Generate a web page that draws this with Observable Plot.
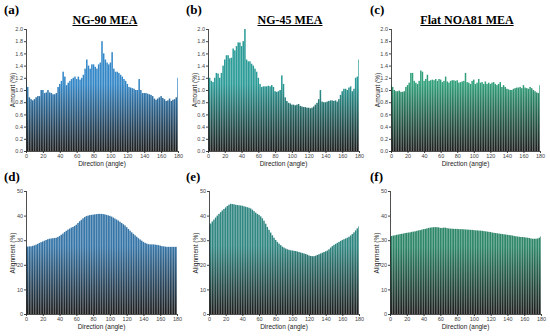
<!DOCTYPE html>
<html>
<head>
<meta charset="utf-8">
<script src="https://cdn.jsdelivr.net/npm/d3@7"></script>
<script src="https://cdn.jsdelivr.net/npm/@observablehq/plot@0.6"></script>
<style>
  html, body { margin: 0; padding: 0; background: #fff; }
  #root { position: relative; width: 550px; height: 336px; overflow: hidden; font-family: "Liberation Sans", Arial, sans-serif; }
  .abs { position: absolute; }
  .plabel { font-family: "Liberation Serif", "Times New Roman", serif; font-weight: bold; font-size: 13px; color: #000; }
  .title { font-family: "Liberation Serif", "Times New Roman", serif; font-weight: bold; font-size: 12px; text-decoration: underline; color: #000; transform: translateX(-50%); white-space: nowrap; }
  .xlab { font-size: 6.5px; color: #222; transform: translateX(-50%); white-space: nowrap; }
  .ylab { font-size: 6.5px; color: #222; white-space: nowrap; transform: translate(-50%, -50%) rotate(-90deg); }
</style>
</head>
<body>
<div id="root"></div>
<script>
const angles = d3.range(0, 181, 2);

const amountNG90 = [1.2, 1.05, 0.88, 0.85, 0.83, 0.85, 0.88, 0.9, 0.9, 1.0, 1.0, 0.95, 0.96, 1.0, 0.96, 0.95,
  0.93, 0.93, 0.95, 1.05, 1.1, 1.15, 1.3, 1.22, 1.08, 1.12, 1.15, 1.18, 1.2, 1.22, 1.18, 1.22, 1.17, 1.2,
  1.25, 1.35, 1.5, 1.4, 1.35, 1.42, 1.42, 1.38, 1.35, 1.42, 1.45, 1.8, 1.6, 1.5, 1.45, 1.42, 1.45, 1.62,
  1.35, 1.3, 1.3, 1.28, 1.25, 1.22, 1.18, 1.15, 1.1, 1.05, 1.04, 1.03, 1.02, 1.0, 1.0, 1.18, 1.0, 0.95,
  0.95, 0.95, 0.94, 0.93, 0.92, 0.9, 0.86, 0.84, 0.86, 0.88, 0.9, 0.87, 0.85, 0.82, 0.83, 0.86, 0.82,
  0.84, 0.85, 0.88, 1.2];

const amountNG45 = [1.5, 1.2, 1.15, 1.13, 1.2, 1.28, 1.27, 1.2, 1.28, 1.4, 1.5, 1.57, 1.57, 1.52, 1.53,
  1.68, 1.65, 1.72, 1.78, 1.78, 1.72, 1.8, 2.0, 1.5, 1.47, 1.47, 1.43, 1.4, 1.35, 1.3, 1.2, 1.1, 1.05,
  1.06, 1.06, 1.06, 1.07, 1.06, 1.08, 1.05, 0.98, 0.97, 0.98, 1.0, 1.24, 1.1, 0.88, 0.82, 0.79, 0.78,
  0.76, 0.76, 0.75, 0.76, 0.77, 0.74, 0.73, 0.72, 0.72, 0.71, 0.71, 0.7, 0.71, 0.73, 0.76, 0.79, 0.85,
  1.0, 0.81, 0.8, 0.8, 0.81, 0.82, 0.83, 0.83, 0.82, 0.83, 0.81, 0.85, 0.92, 0.98, 1.02, 1.02, 1.0,
  1.04, 1.06, 0.98, 1.02, 1.2, 1.22, 1.5];

const amountFlat = [1.08, 1.05, 1.0, 0.98, 0.98, 0.99, 0.97, 0.97, 0.98, 1.05, 1.08, 1.12, 1.28, 1.28,
  1.15, 1.12, 1.1, 1.15, 1.32, 1.3, 1.15, 1.18, 1.25, 1.15, 1.16, 1.17, 1.16, 1.18, 1.15, 1.18, 1.17,
  1.13, 1.15, 1.22, 1.14, 1.12, 1.15, 1.16, 1.16, 1.15, 1.16, 1.12, 1.13, 1.14, 1.15, 1.28, 1.13, 1.12,
  1.1, 1.15, 1.17, 1.1, 1.12, 1.18, 1.12, 1.13, 1.1, 1.14, 1.1, 1.12, 1.1, 1.12, 1.13, 1.1, 1.08, 1.1,
  1.13, 1.05, 1.08, 1.05, 1.02, 1.01, 1.0, 1.0, 1.02, 1.03, 1.04, 1.04, 1.05, 1.03, 1.08, 1.04, 1.03,
  1.02, 1.05, 1.03, 1.0, 0.98, 0.96, 0.95, 1.08];

const alignNG90 = [27.4, 27.4, 27.5, 27.5, 27.7, 27.9,
  28.2, 28.5, 28.9, 29.2, 29.5, 29.8, 30.1, 30.4, 30.6, 30.7, 30.8, 30.9, 31.0, 31.3, 31.7,
  32.2, 32.7, 33.3, 33.8, 34.3, 34.7, 35.1, 35.4, 35.8, 36.3, 37.0, 37.7, 38.3, 38.9, 39.4,
  39.8, 40.0, 40.2, 40.3, 40.4, 40.5, 40.6, 40.7, 40.7, 40.7, 40.6, 40.5, 40.3, 40.1, 39.9,
  39.6, 39.2, 38.8, 38.4, 38.0, 37.5, 37.0, 36.5, 36.0, 35.3, 34.6, 33.9, 33.2, 32.6, 32.0,
  31.4, 30.8, 30.3, 29.8, 29.3, 28.9, 28.6, 28.4, 28.3, 28.3, 28.3, 28.2, 28.1, 28.0, 27.8,
  27.6, 27.5, 27.4, 27.3, 27.3, 27.3, 27.3, 27.3, 27.3, 27.3];

const alignNG45 = [36.0, 36.8, 37.6, 38.4, 39.2, 40.0,
  40.7, 41.4, 42.1, 42.7, 43.3, 43.9, 44.4, 44.8, 44.7, 44.6, 44.4, 44.3, 44.2, 44.1, 44.0,
  43.8, 43.6, 43.4, 43.2, 42.9, 42.4, 41.8, 41.2, 40.7, 40.3, 39.7, 38.9, 37.9, 36.7, 35.4,
  34.2, 33.1, 32.0, 31.0, 30.1, 29.3, 28.6, 28.0, 27.4, 27.0, 26.6, 26.3, 26.1, 25.9, 25.8,
  25.7, 25.6, 25.4, 25.2, 25.0, 24.8, 24.6, 24.4, 24.1, 23.8, 23.6, 23.5, 23.5, 23.7, 24.0,
  24.3, 24.6, 24.9, 25.2, 25.5, 25.8, 26.3, 27.0, 27.6, 28.1, 28.5, 28.9, 29.3, 29.7, 30.1,
  30.4, 30.7, 31.0, 31.4, 31.9, 32.5, 33.2, 34.0, 34.8, 35.6];

const alignFlat = [31.5, 31.7, 31.9, 32.0, 32.2, 32.3,
  32.5, 32.6, 32.7, 32.9, 33.0, 33.1, 33.2, 33.4, 33.5, 33.6, 33.8, 34.0, 34.1, 34.3, 34.5,
  34.6, 34.8, 35.0, 35.1, 35.2, 35.3, 35.3, 35.3, 35.2, 35.0, 35.0, 35.1, 35.1, 34.9, 34.8,
  34.7, 34.7, 34.6, 34.6, 34.6, 34.5, 34.5, 34.5, 34.4, 34.4, 34.3, 34.3, 34.2, 34.2, 34.1,
  34.0, 34.0, 33.9, 33.9, 33.8, 33.7, 33.6, 33.5, 33.4, 33.3, 33.1, 33.0, 32.9, 32.8, 32.7,
  32.6, 32.5, 32.4, 32.3, 32.2, 32.1, 32.0, 31.9, 31.7, 31.6, 31.5, 31.4, 31.3, 31.3, 31.2,
  31.1, 31.0, 30.9, 30.7, 30.6, 30.6, 30.6, 30.7, 31.0, 31.5];

const xTicks = [0, 20, 40, 60, 80, 100, 120, 140, 160, 180];
const amountTicks = [0, 0.2, 0.4, 0.6, 0.8, 1.0, 1.2, 1.4, 1.6, 1.8, 2.0];
const alignTicks = [0, 10, 20, 30, 40, 50];

const panels = [
  {tag: "(a)", title: "NG-90 MEA", values: amountNG90, color: "#3588c8", left: 0, top: 25, width: 183, height: 145, domain: [0, 2], ticks: amountTicks, fmt: ".1f", ylabel: "Amount (%)", tagX: 4, titleX: 105},
  {tag: "(b)", title: "NG-45 MEA", values: amountNG45, color: "#2c9c98", left: 182, top: 25, width: 182, height: 145, domain: [0, 2], ticks: amountTicks, fmt: ".1f", ylabel: "Amount (%)", tagX: 186, titleX: 290},
  {tag: "(c)", title: "Flat NOA81 MEA", values: amountFlat, color: "#31a07a", left: 365, top: 25, width: 180, height: 145, domain: [0, 2], ticks: amountTicks, fmt: ".1f", ylabel: "Amount (%)", tagX: 370, titleX: 467},
  {tag: "(d)", title: null, values: alignNG90, color: "#3776a8", left: 0, top: 187, width: 182, height: 146, domain: [0, 50], ticks: alignTicks, fmt: "d", ylabel: "Alignment (%)", tagX: 4},
  {tag: "(e)", title: null, values: alignNG45, color: "#318782", left: 183, top: 187, width: 181, height: 146, domain: [0, 50], ticks: alignTicks, fmt: "d", ylabel: "Alignment (%)", tagX: 186},
  {tag: "(f)", title: null, values: alignFlat, color: "#2e8768", left: 364, top: 187, width: 182, height: 146, domain: [0, 50], ticks: alignTicks, fmt: "d", ylabel: "Alignment (%)", tagX: 370}
];

const root = document.getElementById("root");
const mL = 26, mR = 5, mT = 4, mB = 19;

function addDiv(cls, text, left, top) {
  const d = document.createElement("div");
  d.className = "abs " + cls;
  d.textContent = text;
  d.style.left = left + "px";
  d.style.top = top + "px";
  root.appendChild(d);
  return d;
}

panels.forEach((p, i) => {
  const data = angles.map((a, j) => ({angle: a, value: p.values[j]}));
  const gid = "grad" + i;
  const chart = Plot.plot({
    width: p.width,
    height: p.height,
    marginLeft: mL, marginRight: mR, marginTop: mT, marginBottom: mB,
    style: {fontFamily: "'Liberation Sans', Arial, sans-serif", fontSize: "5.5px", color: "#444", background: "transparent", overflow: "visible"},
    x: {type: "linear", domain: [0, 180], ticks: xTicks, tickSize: 2, tickPadding: 1, label: null},
    y: {type: "linear", domain: p.domain, ticks: p.ticks, tickSize: 2, tickPadding: 1.5, label: null, tickFormat: d3.format(p.fmt)},
    marks: [
      Plot.rectY(data, {
        x1: d => Math.max(0, d.angle - 1),
        x2: d => Math.min(180, d.angle + 1),
        y: "value",
        fill: `url(#${gid})`,
        insetLeft: 0.08, insetRight: 0.08
      }),
      Plot.ruleY([p.domain[0]], {stroke: "#222", strokeWidth: 0.8}),
      Plot.ruleX([0], {stroke: "#222", strokeWidth: 0.8})
    ]
  });
  const svg = d3.select(chart);
  const defs = svg.insert("defs", ":first-child");
  const lg = defs.append("linearGradient")
    .attr("id", gid)
    .attr("gradientUnits", "userSpaceOnUse")
    .attr("x1", 0).attr("x2", 0)
    .attr("y1", mT).attr("y2", p.height - mB);
  lg.append("stop").attr("offset", "0").attr("stop-color", p.color);
  lg.append("stop").attr("offset", "0.45").attr("stop-color", p.color);
  lg.append("stop").attr("offset", "1").attr("stop-color", "#1e1e1e");

  chart.style.position = "absolute";
  chart.style.left = p.left + "px";
  chart.style.top = p.top + "px";
  root.appendChild(chart);

  const axisX = p.left + mL;
  const plotW = p.width - mL - mR;
  const baseY = p.top + p.height - mB;
  addDiv("xlab", "Direction (angle)", axisX + plotW / 2, baseY + 9);
  addDiv("ylab", p.ylabel, axisX - 14, p.top + mT + (p.height - mT - mB) / 2);
  addDiv("plabel", p.tag, p.tagX, p.top - (i < 3 ? 23 : 18));
  if (p.title) addDiv("title", p.title, p.titleX, p.top - 12);
});
</script>
</body>
</html>
